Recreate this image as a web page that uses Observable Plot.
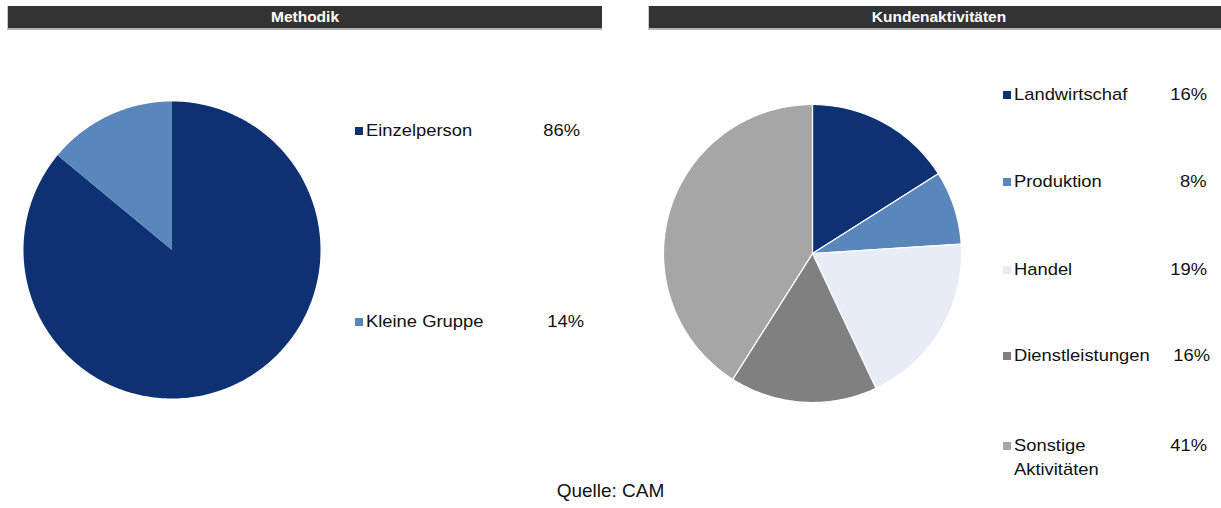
<!DOCTYPE html>
<html>
<head>
<meta charset="utf-8">
<script src="https://cdn.jsdelivr.net/npm/d3@7"></script>
<script src="https://cdn.jsdelivr.net/npm/@observablehq/plot@0.6"></script>
<style>
  html, body { margin: 0; padding: 0; background: #fff; }
  #root { position: relative; width: 1221px; height: 508px; overflow: hidden; font-family: "Liberation Sans", Arial, sans-serif; color: #111; }
  .bar { position: absolute; top: 6px; height: 22px; background: #333333; border-bottom: 2px solid #b4b4b4; color: #fff; font-weight: bold; font-size: 15.5px; text-align: center; line-height: 22px; }
  .pie { position: absolute; }
  .lg { position: absolute; font-size: 17px; white-space: nowrap; line-height: 20px; }
  .lg .sq { position: absolute; width: 8px; height: 8px; }
  .lg .t { display: inline-block; transform: scaleX(1.08); transform-origin: left center; }
  .pct { position: absolute; font-size: 17px; line-height: 20px; text-align: right; width: 60px; }
  .pct span { display: inline-block; transform: scaleX(1.08); transform-origin: right center; }
  #src { position: absolute; left: 0; width: 1221px; text-align: center; top: 480px; font-size: 19px; line-height: 22px; }
</style>
</head>
<body>
<div id="root"></div>
<script>
// ---- Data ----
const methodCategories = ["Einzelperson", "Kleine Gruppe"];
const methodValues = [86, 14];
const methodColors = ["#0e3174", "#5a87bb"];

const activityCategories = ["Landwirtschaf", "Produktion", "Handel", "Dienstleistungen", "Sonstige Aktivitäten"];
const activityValues = [16, 8, 19, 16, 41];
const activityColors = ["#0e3174", "#5a87bb", "#e7ecf7", "#808080", "#a6a6a6"];

const panelTitles = ["Methodik", "Kundenaktivitäten"];
const sourceNote = "Quelle: CAM";

// ---- Build slice outlines (clockwise from 12 o'clock) from values ----
function slicePoints(cats, vals) {
  const total = d3.sum(vals);
  const pts = [];
  let acc = 0;
  cats.forEach((c, i) => {
    const a0 = acc / total * 2 * Math.PI;
    acc += vals[i];
    const a1 = acc / total * 2 * Math.PI;
    pts.push({cat: c, x: 0, y: 0});
    const n = Math.max(2, Math.ceil((a1 - a0) / (Math.PI / 180)));
    for (let k = 0; k <= n; k++) {
      const a = a0 + (a1 - a0) * k / n;
      pts.push({cat: c, x: Math.sin(a), y: Math.cos(a)});
    }
  });
  return pts;
}

function pie(cats, vals, colors, size, strokeW) {
  return Plot.plot({
    width: size, height: size,
    margin: 2,
    x: {domain: [-1, 1], axis: null},
    y: {domain: [-1, 1], axis: null},
    color: {domain: cats, range: colors},
    marks: [
      Plot.line(slicePoints(cats, vals), {
        x: "x", y: "y", z: "cat", fill: "cat",
        stroke: strokeW > 0 ? "white" : "none", strokeWidth: strokeW, curve: "linear-closed"
      })
    ]
  });
}

const root = document.getElementById("root");
function el(tag, cls, style, text) {
  const e = document.createElement(tag);
  if (cls) e.className = cls;
  Object.assign(e.style, style || {});
  if (text != null) e.textContent = text;
  root.appendChild(e);
  return e;
}

// Title bars
el("div", "bar", {left: "7px", width: "594px", borderLeft: "1px solid #c8c8c8"}, panelTitles[0]);
el("div", "bar", {left: "648px", width: "580px", borderLeft: "1px solid #c8c8c8"}, panelTitles[1]);

// Pies
const p1 = pie(methodCategories, methodValues, methodColors, 301, 0);
p1.classList.add("pie"); Object.assign(p1.style, {left: "21px", top: "99px"});
root.appendChild(p1);
const p2 = pie(activityCategories, activityValues, activityColors, 302, 1.2);
p2.classList.add("pie"); Object.assign(p2.style, {left: "661px", top: "102px"});
root.appendChild(p2);

// Legends
function legend(cats, vals, colors, sqX, ys, pctRight) {
  cats.forEach((c, i) => {
    const y = ys[i];
    const g = el("div", "lg", {left: (sqX + 11) + "px", top: (y - 10) + "px"});
    const sq = document.createElement("div");
    sq.className = "sq";
    Object.assign(sq.style, {left: "-11px", top: "6px", background: colors[i]});
    g.appendChild(sq);
    const parts = c === "Sonstige Aktivitäten" ? ["Sonstige", "Aktivitäten"] : [c];
    parts.forEach((p, j) => {
      const t = document.createElement("div");
      const s = document.createElement("span");
      s.className = "t";
      s.textContent = p;
      t.appendChild(s);
      g.appendChild(t);
      if (j > 0) t.style.marginTop = "4px";
    });
    const pc = el("div", "pct", {left: (pctRight[i] - 60) + "px", top: (y - 10) + "px"});
    const ps = document.createElement("span");
    ps.textContent = vals[i] + "%";
    pc.appendChild(ps);
  });
}
legend(methodCategories, methodValues, methodColors, 355, [131, 322], [580, 584]);
legend(activityCategories, activityValues, activityColors, 1003, [95, 182, 270, 356, 446], [1207, 1207, 1207, 1210, 1207]);

el("div", null, {}, sourceNote).id = "src";
</script>
</body>
</html>
